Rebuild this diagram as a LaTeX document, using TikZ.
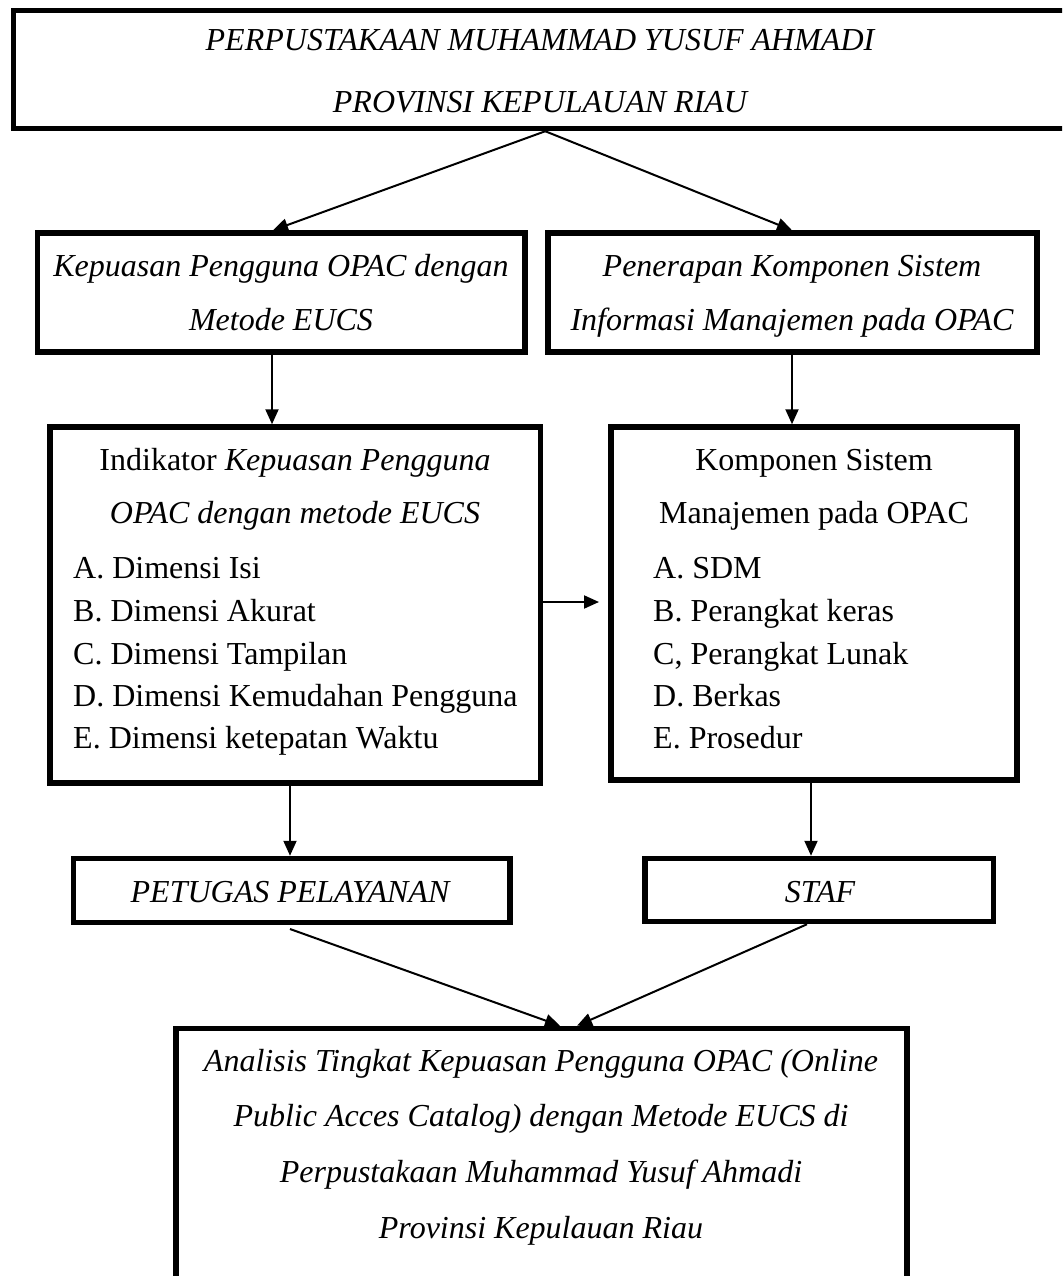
\documentclass[tikz,border=0pt]{standalone}
\usepackage{fontspec}
\setmainfont{Liberation Serif}
\usetikzlibrary{arrows.meta}
\begin{document}
\begin{tikzpicture}[x=1pt,y=-1pt,
  box/.style={draw, line width=5.5pt, inner sep=0pt, fill=none},
  txt/.style={anchor=base, inner sep=0pt, font=\fontsize{32}{38}\selectfont},
  itx/.style={txt, font=\fontsize{32}{38}\selectfont\itshape},
  lst/.style={txt, anchor=base west},
  arr/.style={line width=2pt, -{Triangle[length=15pt,width=13pt]}}]
\useasboundingbox (0,0) rectangle (1062,1276);
\clip (0,0) rectangle (1062,1276);
\fill[white] (0,0) rectangle (1062,1276);

% boxes
\node[box, minimum width=1063.5pt, minimum height=118pt] (top) at (545.25,69.5) {};
\node[box, minimum width=487.5pt, minimum height=119pt] (b2l) at (281.25,292.5) {};
\node[box, minimum width=489pt, minimum height=119pt] (b2r) at (792.5,292.5) {};
\node[box, minimum width=490.5pt, minimum height=356pt] (b3l) at (295.25,605) {};
\node[box, minimum width=406pt, minimum height=353pt] (b3r) at (814,603.5) {};
\node[box, minimum width=436.5pt, minimum height=64pt] (b4l) at (291.75,890.5) {};
\node[box, minimum width=348.5pt, minimum height=63pt] (b4r) at (819.25,890) {};
\node[box, minimum width=731pt, minimum height=300pt] (b5) at (541.5,1178.5) {};

% texts
\node[itx] (t1) at (540,51) {PERPUSTAKAAN MUHAMMAD YUSUF AHMADI};
\node[itx] (t2) at (540,113) {PROVINSI KEPULAUAN RIAU};

\node[itx] (l1) at (281,276) {Kepuasan Pengguna OPAC dengan};
\node[itx] (l2) at (281,330) {Metode EUCS};
\node[itx] (r1) at (792,276) {Penerapan Komponen Sistem};
\node[itx] (r2) at (792,330) {Informasi Manajemen pada OPAC};

\node[txt] (il1) at (295,470) {Indikator \textit{Kepuasan Pengguna}};
\node[itx] (il2) at (295,523) {OPAC dengan metode EUCS};
\node[lst] (ia) at (73,578) {A. Dimensi Isi};
\node[lst] (ib) at (73,621) {B. Dimensi Akurat};
\node[lst] (ic) at (73,664) {C. Dimensi Tampilan};
\node[lst] (id) at (73,706) {D. Dimensi Kemudahan Pengguna};
\node[lst] (ie) at (73,748) {E. Dimensi ketepatan Waktu};

\node[txt] (kr1) at (814,470) {Komponen Sistem};
\node[txt] (kr2) at (814,523) {Manajemen pada OPAC};
\node[lst] (ka) at (653,578) {A. SDM};
\node[lst] (kb) at (653,621) {B. Perangkat keras};
\node[lst] (kc) at (653,664) {C, Perangkat Lunak};
\node[lst] (kd) at (653,706) {D. Berkas};
\node[lst] (ke) at (653,748) {E. Prosedur};

\node[itx] (p1) at (290,902) {PETUGAS PELAYANAN};
\node[itx] (s1) at (820,902) {STAF};

\node[itx] (a1) at (541,1071) {Analisis Tingkat Kepuasan Pengguna OPAC (Online};
\node[itx] (a2) at (541,1126) {Public Acces Catalog) dengan Metode EUCS di};
\node[itx] (a3) at (541,1182) {Perpustakaan Muhammad Yusuf Ahmadi};
\node[itx] (a4) at (541,1238) {Provinsi Kepulauan Riau};

% helper coordinates
\coordinate (x273) at (273,0);
\coordinate (x272) at (272,0);
\coordinate (x792) at (792,0);
\coordinate (x290) at (290,0);
\coordinate (x811) at (811,0);
\coordinate (x560) at (560,0);
\coordinate (x577) at (577,0);
\coordinate (x807) at (807,0);
\coordinate (hend) at (599,602);
\coordinate (dstart) at (290,929);

% connectors
\draw[arr] (top.south) -- (b2l.north -| x273);
\draw[arr] (top.south) -- (b2r.north -| x792);
\draw[arr] (b2l.south -| x272) -- (b3l.north -| x272);
\draw[arr] (b2r.south -| x792) -- (b3r.north -| x792);
\draw[arr] (b3l.east |- hend) -- (hend);
\draw[arr] (b3l.south -| x290) -- (b4l.north -| x290);
\draw[arr] (b3r.south -| x811) -- (b4r.north -| x811);
\draw[arr] (dstart) -- (b5.north -| x560);
\draw[arr] (b4r.south -| x807) -- (b5.north -| x577);
\end{tikzpicture}
\end{document}
